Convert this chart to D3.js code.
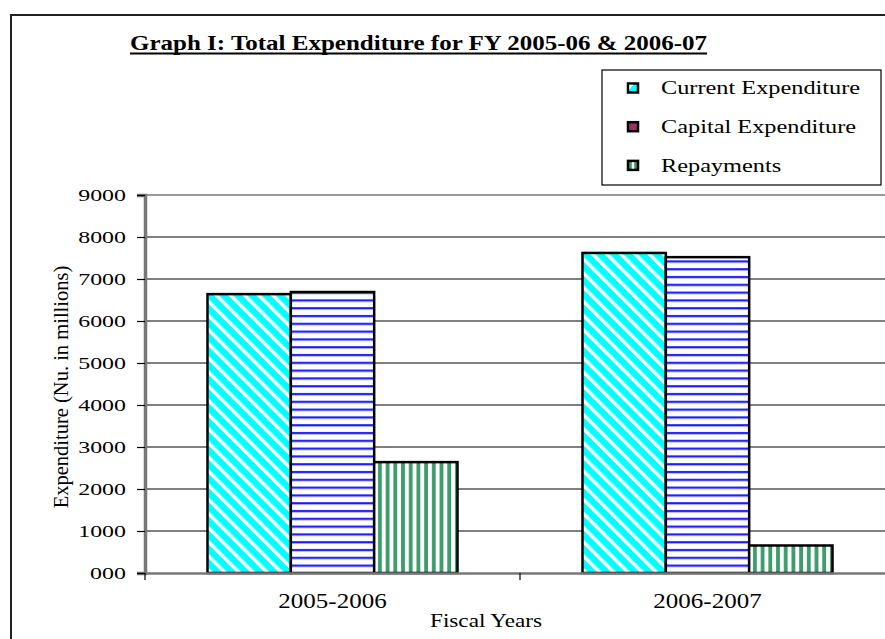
<!DOCTYPE html>
<html><head><meta charset="utf-8">
<script src="https://cdn.jsdelivr.net/npm/d3@7/dist/d3.min.js"></script>
<style>body{margin:0;background:#fff}svg{display:block}</style>
</head><body>
<svg id="c" width="885" height="639"></svg>
<script>
const categories = ["2005-2006", "2006-2007"];
const seriesNames = ["Current Expenditure", "Capital Expenditure", "Repayments"];
const currentExp = [6640, 7620];
const capitalExp = [6690, 7520];
const repayments = [2640, 655];
const yTicks = [0,1000,2000,3000,4000,5000,6000,7000,8000,9000];
const yTickLabels = ["000","1000","2000","3000","4000","5000","6000","7000","8000","9000"];

const svg = d3.select("#c");
const font = "'Liberation Serif','Times New Roman',serif";
const defs = svg.append("defs");
// patterns
const p1 = defs.append("pattern").attr("id","pCur").attr("patternUnits","userSpaceOnUse")
  .attr("width",10).attr("height",10).attr("patternTransform","rotate(-45)");
p1.append("rect").attr("width",10).attr("height",10).attr("fill","#00ffff");
p1.append("rect").attr("x",0).attr("y",0).attr("width",3.4).attr("height",10).attr("fill","#ffffff");
const p2 = defs.append("pattern").attr("id","pCap").attr("patternUnits","userSpaceOnUse")
  .attr("width",8).attr("height",7.8);
p2.append("rect").attr("width",8).attr("height",7.8).attr("fill","#ffffff");
p2.append("rect").attr("y",3).attr("width",8).attr("height",2.2).attr("fill","#1a1aff");
const p3 = defs.append("pattern").attr("id","pRep").attr("patternUnits","userSpaceOnUse")
  .attr("width",7.7).attr("height",8);
p3.append("rect").attr("width",7.7).attr("height",8).attr("fill","#ffffff");
p3.append("rect").attr("x",2).attr("width",3.8).attr("height",8).attr("fill","#3c9c6c");
const fills = ["url(#pCur)","url(#pCap)","url(#pRep)"];

// outer frame
svg.append("rect").attr("x",11).attr("y",15).attr("width",1000).attr("height",700)
  .attr("fill","none").attr("stroke","#222").attr("stroke-width",2);

const x0 = 145, x1 = 895, yTop = 195, yBot = 573;
const x = d3.scaleBand().domain(categories).range([x0, x1]);
const xs = d3.scaleBand().domain(seriesNames).range([0, x.bandwidth()]).paddingInner(0).paddingOuter(0.75);
const y = d3.scaleLinear().domain([0, 9000]).range([yBot, yTop]);

// gridlines
svg.append("g").selectAll("line").data(yTicks.slice(1,-1)).join("line")
  .attr("x1",x0).attr("x2",885).attr("y1",d=>y(d)).attr("y2",d=>y(d))
  .attr("stroke","#000").attr("stroke-width",1.2);
// top plot border
svg.append("line").attr("x1",x0).attr("x2",885).attr("y1",yTop).attr("y2",yTop)
  .attr("stroke","#999").attr("stroke-width",2);

// bars
const data = categories.map((c,i)=>({cat:c, vals:[currentExp[i],capitalExp[i],repayments[i]]}));
const groups = svg.append("g").selectAll("g").data(data).join("g")
  .attr("transform",d=>`translate(${x(d.cat)},0)`);
groups.selectAll("rect").data(d=>d.vals.map((v,j)=>({v,j}))).join("rect")
  .attr("x",d=>xs(seriesNames[d.j])).attr("width",xs.bandwidth())
  .attr("y",d=>y(d.v)).attr("height",d=>yBot-y(d.v))
  .attr("fill",d=>fills[d.j]).attr("stroke","#000").attr("stroke-width",2.5);

// y axis
const ySx = 1.45;
const yAxis = d3.axisLeft(y).tickValues(yTicks).tickFormat((d,i)=>yTickLabels[i]).tickSize(8);
const ga = svg.append("g").attr("transform",`translate(${x0},0)`).call(yAxis);
ga.select(".domain").attr("stroke","#777").attr("stroke-width",3.5);
ga.selectAll(".tick line").attr("stroke","#000").attr("stroke-width",1.2);
ga.selectAll("text").attr("font-family",font).attr("font-size",16.5).attr("fill","#000")
  .attr("x",-19/ySx).attr("dy","0.34em").attr("transform",`scale(${ySx},1)`);

// x axis
const xSx = 1.19;
const xAxis = d3.axisBottom(x).tickSize(0);
const gx = svg.append("g").attr("transform",`translate(0,${yBot})`).call(xAxis);
gx.select(".domain").attr("stroke","#777").attr("stroke-width",2.5);
gx.selectAll("text").attr("font-family",font).attr("font-size",21).attr("fill","#000")
  .attr("y",35).attr("dy",0).attr("transform",`scale(${xSx},1)`);
// x boundary ticks
svg.append("g").selectAll("line").data([x0, x(categories[1])]).join("line")
  .attr("x1",d=>d).attr("x2",d=>d).attr("y1",yBot).attr("y2",yBot+7)
  .attr("stroke","#000").attr("stroke-width",1.2);

// axis titles
svg.append("g").attr("transform","translate(486,627) scale(1.22,1)")
  .append("text").attr("text-anchor","middle")
  .attr("font-family",font).attr("font-size",19).text("Fiscal Years");
svg.append("text").attr("transform","translate(68,387) rotate(-90)").attr("text-anchor","middle")
  .attr("font-family",font).attr("font-size",20.5).text("Expenditure (Nu. in millions)");

// title
const tSx = 1.19;
const tg = svg.append("g").attr("transform",`translate(130,50) scale(${tSx},1)`);
const t = tg.append("text").attr("x",0).attr("y",0).attr("font-family",font)
  .attr("font-size",21).attr("font-weight","bold").text("Graph I: Total Expenditure for FY 2005-06 & 2006-07");
const tw = t.node().getComputedTextLength();
tg.append("line").attr("x1",0).attr("x2",tw).attr("y1",3.5).attr("y2",3.5)
  .attr("stroke","#000").attr("stroke-width",2);

// legend
const lg = svg.append("g");
lg.append("rect").attr("x",602).attr("y",70).attr("width",279).attr("height",115)
  .attr("fill","#fff").attr("stroke","#000").attr("stroke-width",1.2);
const items = lg.selectAll("g").data(seriesNames).join("g")
  .attr("transform",(d,i)=>`translate(628,${88+i*38.7})`);
items.append("rect").attr("x",0).attr("y",-4.5).attr("width",10).attr("height",9)
  .attr("fill",(d,i)=>["#00ffff","#993366","#3c9c6c"][i]).attr("stroke","#000").attr("stroke-width",2.5);
// swatch hatch hints
items.filter((d,i)=>i===0).append("path").attr("d","M1.3,-3.2 L5.5,-3.2 L1.3,1.5 Z").attr("fill","#fff");
items.filter((d,i)=>i===2).append("rect").attr("x",3.8).attr("y",-3.2).attr("width",2.4).attr("height",6.4).attr("fill","#fff");
items.append("g").attr("transform","translate(33,6.3) scale(1.28,1)")
  .append("text").attr("font-family",font).attr("font-size",19).text(d=>d);
</script>
</body></html>
